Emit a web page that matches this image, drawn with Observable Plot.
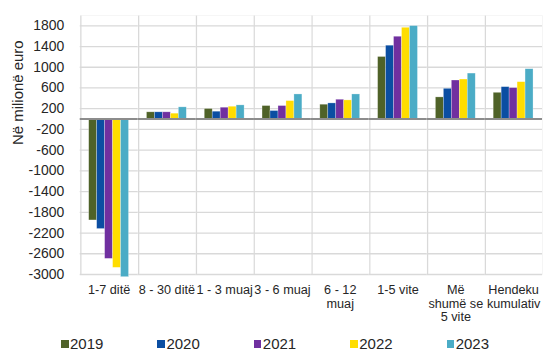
<!DOCTYPE html>
<html>
<head>
<meta charset="utf-8">
<script src="https://cdn.jsdelivr.net/npm/d3@7"></script>
<script src="https://cdn.jsdelivr.net/npm/@observablehq/plot@0.6"></script>
<style>
  html, body { margin: 0; padding: 0; background: #fff; overflow: hidden; }
  #wrap { width: 543px; height: 353px; position: relative; font-family: "Liberation Sans", Arial, sans-serif; }
  #legend { position: absolute; left: 0; top: 334px; width: 543px; height: 20px; display: flex; padding-left: 61px; box-sizing: border-box; }
  .item { width: 100.3px; display: flex; align-items: center; font-size: 15px; color: #262626; line-height: 20px; }
  .sw { width: 7.5px; height: 7.5px; margin-right: 1.5px; }
</style>
</head>
<body>
<div id="wrap"><div id="chart"></div><div id="legend"></div></div>
<script>
const categories = ["1-7 ditë", "8 - 30 ditë", "1 - 3 muaj", "3 - 6 muaj", "6 - 12\nmuaj", "1-5 vite", "Më\nshumë se\n5 vite", "Hendeku\nkumulativ"];
const years = ["2019", "2020", "2021", "2022", "2023"];
const colors = ["#4f6228", "#0b4ea2", "#7030a0", "#ffdd00", "#4bacc6"];
const v2019 = [-1957, 130, 194, 251, 277, 1198, 418, 507];
const v2020 = [-2123, 130, 142, 155, 302, 1416, 584, 616];
const v2021 = [-2699, 130, 219, 251, 373, 1589, 744, 597];
const v2022 = [-2872, 104, 238, 347, 360, 1762, 763, 712];
const v2023 = [-3052, 226, 264, 475, 475, 1794, 878, 962];
const yTicks = [-3000, -2600, -2200, -1800, -1400, -1000, -600, -200, 200, 600, 1000, 1400, 1800];
const yTitle = "Në milionë euro";

const series = [v2019, v2020, v2021, v2022, v2023];
const data = [];
categories.forEach((c, i) => years.forEach((y, j) => data.push({cat: c, year: y, value: series[j][i]})));

const chart = Plot.plot({
  width: 545,
  height: 333,
  marginLeft: 79,
  marginRight: 0,
  marginTop: 15,
  marginBottom: 58,
  style: {fontFamily: "'Liberation Sans', Arial, sans-serif", color: "#262626", background: "transparent"},
  fx: {domain: categories, padding: 0, label: null},
  x: {domain: years, paddingInner: 0, paddingOuter: 0.78, axis: null},
  y: {domain: [-3000, 2000], label: null},
  color: {domain: years, range: colors},
  marks: [
    Plot.frame({fill: "#d9d9d9", stroke: null}),
    Plot.frame({fill: "#ffffff", stroke: null, insetLeft: 1.3}),
    Plot.gridY(yTicks, {stroke: "#d9d9d9", strokeOpacity: 1, strokeWidth: 1.3}),
    Plot.barY(data, {fx: "cat", x: "year", y: "value", fill: "year", stroke: "#ffffff", strokeOpacity: 0.45, strokeWidth: 0.6}),
    Plot.ruleY([0], {stroke: "#8c8c8c", strokeWidth: 2}),
    Plot.axisY(yTicks, {tickSize: 0, tickPadding: 16, tickFormat: d => String(d), fontSize: 14, label: null}),
    Plot.text([yTitle], {fx: () => categories[0], frameAnchor: "left", rotate: -90, dx: -62, fontSize: 15, fill: "#262626"}),
    Plot.axisFx({anchor: "bottom", tickSize: 0, tickPadding: 10, fontSize: 12.7, lineHeight: 1.08, label: null})
  ]
});
document.getElementById("chart").appendChild(chart);

const legend = document.getElementById("legend");
years.forEach((y, j) => {
  const it = document.createElement("div");
  it.className = "item";
  const sw = document.createElement("span");
  sw.className = "sw";
  sw.style.background = colors[j];
  const t = document.createElement("span");
  t.textContent = y;
  it.appendChild(sw); it.appendChild(t);
  legend.appendChild(it);
});
</script>
</body>
</html>
